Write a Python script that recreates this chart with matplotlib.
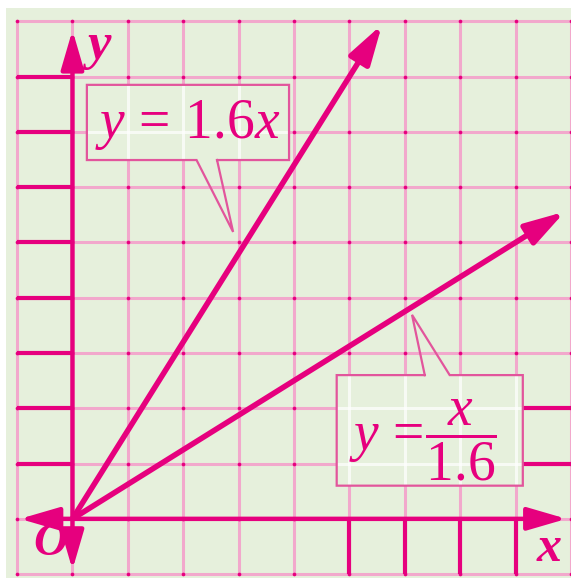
import numpy as np
import matplotlib
matplotlib.use("Agg")
import matplotlib.pyplot as plt
from matplotlib.patches import Rectangle

plt.rcParams['mathtext.fontset'] = 'custom'
plt.rcParams['mathtext.rm'] = 'Liberation Serif'
plt.rcParams['mathtext.it'] = 'Liberation Serif:italic'

# data
grid_vals = list(range(-1, 10))
slopes = [1.6, 1 / 1.6]
line_end_x = [5.59, 8.89]
labels = [r'$y\,=\,1.6x$', r'$y\,=\!\dfrac{x}{1.6}$']
left_ticks_y = [1, 2, 3, 4, 5, 6, 7, 8]
bottom_ticks_x = [5, 6, 7, 8]
right_ticks_y = [1, 2]

# colours
bg = '#e6f0dc'
pink = '#e6007e'
light = '#f2a8cc'
edge = '#e2559c'

fig = plt.figure(figsize=(5.71, 5.78), dpi=100)
fig.patch.set_facecolor('white')
ax = fig.add_axes([6 / 571, 0, 565 / 571, 570 / 578])
ax.set_facecolor(bg)
ax.set_xlim(-1.2, 9.0)
ax.set_ylim(-1.07, 9.24)
ax.axis('off')
ax.add_patch(Rectangle((-1.2, -1.07), 10.2, 10.31, color=bg, zorder=0))

# light grid
for g in grid_vals:
    ax.plot([g, g], [-1, 9], color=light, lw=2.2, zorder=1, solid_capstyle='butt')
    ax.plot([-1, 9], [g, g], color=light, lw=2.2, zorder=1, solid_capstyle='butt')
gx, gy = np.meshgrid(grid_vals, grid_vals)
ax.scatter(gx.ravel(), gy.ravel(), s=7, color=pink, zorder=2, linewidths=0)

# thick tick segments
for y in left_ticks_y:
    ax.plot([-1, 0], [y, y], color=pink, lw=3, zorder=3, solid_capstyle='butt')
for y in right_ticks_y:
    ax.plot([8, 9], [y, y], color=pink, lw=3, zorder=3, solid_capstyle='butt')
for x in bottom_ticks_x:
    ax.plot([x, x], [-1, 0], color=pink, lw=3, zorder=3, solid_capstyle='butt')

def arrow(x0, y0, x1, y1, lw, z=4):
    ax.annotate('', xy=(x1, y1), xytext=(x0, y0), zorder=z,
                arrowprops=dict(arrowstyle='-|>,head_length=1.2,head_width=0.35',
                                mutation_scale=20, color=pink, lw=lw,
                                shrinkA=0, shrinkB=0))

# axes
arrow(0, 0, 8.92, 0, 3.2)
arrow(0, 0, -0.95, 0, 3.2)
arrow(0, 0, 0, 8.84, 3.2)
arrow(0, 0, 0, -0.92, 3.2)

# the two lines
for m, xe in zip(slopes, line_end_x):
    arrow(0, 0, xe, m * xe, 4, z=5)

# callout boxes
def callout(x0, x1, y0, y1, bx0, bx1, tip, on_bottom):
    r = Rectangle((x0, y0), x1 - x0, y1 - y0, facecolor=bg, edgecolor='none', zorder=6)
    ax.add_patch(r)
    for g in grid_vals:
        l1, = ax.plot([g, g], [-1, 9], color='white', lw=2.2, alpha=0.7, zorder=6.5)
        l2, = ax.plot([-1, 9], [g, g], color='white', lw=2.2, alpha=0.7, zorder=6.5)
        l1.set_clip_path(r)
        l2.set_clip_path(r)
    if on_bottom:
        xs = [bx1, x1, x1, x0, x0, bx0, tip[0], bx1]
        ys = [y0, y0, y1, y1, y0, y0, tip[1], y0]
    else:
        xs = [bx0, x0, x0, x1, x1, bx1, tip[0], bx0]
        ys = [y1, y1, y0, y0, y1, y1, tip[1], y1]
    ax.plot(xs, ys, color=edge, lw=1.6, zorder=7, solid_joinstyle='miter')

callout(0.26, 3.91, 6.49, 7.85, 2.24, 2.61, (2.90, 5.19), True)
callout(4.77, 8.13, 0.60, 2.60, 6.36, 6.81, (6.13, 3.69), False)

ax.text(2.08, 7.12, labels[0], color=pink, fontsize=40, ha='center', va='center', zorder=8)
ax.text(5.0, 1.42, labels[1], color=pink, fontsize=40, ha='left', va='center', zorder=8)

# axis letters
ax.text(0.47, 8.55, 'y', color=pink, fontsize=38, family='Liberation Serif',
        style='italic', weight='bold', ha='center', va='center', zorder=8)
ax.text(8.6, -0.55, 'x', color=pink, fontsize=36, family='Liberation Serif',
        style='italic', weight='bold', ha='center', va='center', zorder=8)
ax.text(-0.4, -0.45, 'O', color=pink, fontsize=34, family='Liberation Serif',
        style='italic', weight='bold', ha='center', va='center', zorder=8)

fig.savefig('out.png', dpi=100)
